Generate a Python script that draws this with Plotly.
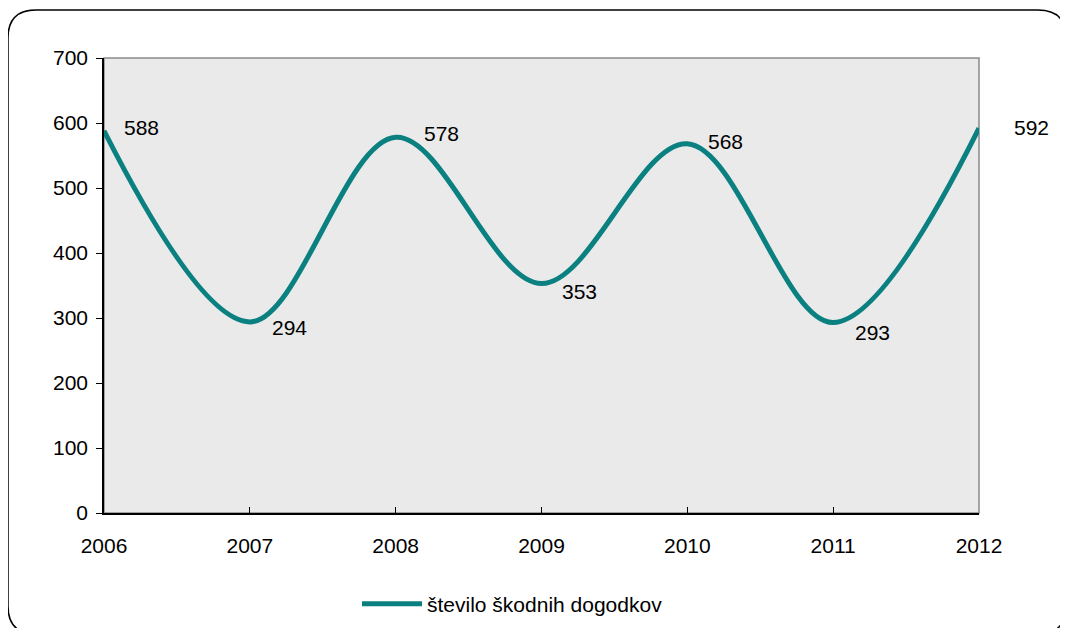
import plotly.graph_objects as go

years = [2006, 2007, 2008, 2009, 2010, 2011, 2012]
values = [588, 294, 578, 353, 568, 293, 592]
series_name = "število škodnih dogodkov"
y_ticks = [0, 100, 200, 300, 400, 500, 600, 700]

OFF = 8  # page body margin
W, H = 1060, 620
# target pixel positions (page coords): plot area x 104..979, y 58..513
ML = 104 - OFF
MT = 58 - OFF
MR = W - (979 - OFF)
MB = H - (513 - OFF)
PW, PH = W - ML - MR, H - MT - MB

def px_x(px):
    return (px - OFF - ML) / PW

def px_y(py):
    return (H - MB - (py - OFF)) / PH

FONT = "Liberation Sans, Arial, sans-serif"
TEAL = "#0b8080"

fig = go.Figure()
fig.add_trace(go.Scatter(
    x=years, y=values, mode="lines", name=series_name,
    line=dict(color=TEAL, width=5, shape="spline", smoothing=1.0),
    cliponaxis=False,
))

# label offsets (xshift, yshift) in pixels
offsets = [(18, 3), (20, -6), (26, 4), (18, -8), (19, 2), (20, -10), (33, 1)]
for x, v, (dx, dy) in zip(years, values, offsets):
    fig.add_annotation(x=x, y=v, text=str(v), showarrow=False,
                       xanchor="left", yanchor="middle", xshift=dx, yshift=dy,
                       font=dict(family=FONT, size=21, color="black"))

# rounded outer border
x0, x1 = px_x(8), px_x(1066)
y0, y1 = px_y(634), px_y(10)
rx = 28 / PW
ry = 28 / PH
path = (f"M {x0+rx},{y1} L {x1-rx},{y1} Q {x1},{y1} {x1},{y1-ry} "
        f"L {x1},{y0+ry} Q {x1},{y0} {x1-rx},{y0} "
        f"L {x0+rx},{y0} Q {x0},{y0} {x0},{y0+ry} "
        f"L {x0},{y1-ry} Q {x0},{y1} {x0+rx},{y1} Z")
fig.add_shape(type="path", path=path, xref="paper", yref="paper",
              line=dict(color="black", width=1.5), layer="below")

# grey frame on top/right of plot area
fig.add_shape(type="rect", xref="paper", yref="paper", x0=0, x1=1, y0=0, y1=1,
              line=dict(color="#8a8a8a", width=1.5), layer="below")

fig.update_layout(
    width=W, height=H,
    margin=dict(l=ML, r=MR, t=MT, b=MB, autoexpand=False),
    paper_bgcolor="white",
    plot_bgcolor="#eaeaea",
    font=dict(family=FONT, size=21, color="black"),
    showlegend=True,
    legend=dict(orientation="h", xref="container", yref="container",
                x=(357 - OFF) / W, y=(H - (604 - OFF)) / H,
                xanchor="left", yanchor="middle",
                font=dict(family=FONT, size=21), itemwidth=60, bgcolor="rgba(0,0,0,0)"),
    xaxis=dict(range=[2006, 2012], tickvals=years, ticktext=[str(y) for y in years],
               showgrid=False, zeroline=False, showline=True, linecolor="black", linewidth=1.5,
               ticks="inside", ticklen=6, tickcolor="black", tickfont=dict(size=21),
               ticklabelstandoff=13),
    yaxis=dict(range=[0, 700], tickvals=y_ticks, showgrid=False, zeroline=False,
               showline=True, linecolor="black", linewidth=1.5,
               ticks="outside", ticklen=6, tickcolor="black", tickfont=dict(size=21),
               ticklabelstandoff=4),
)

fig.write_html("out.html")
